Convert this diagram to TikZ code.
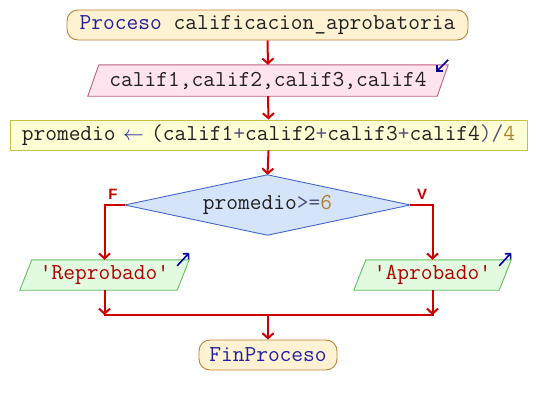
\documentclass[tikz,border=0pt]{standalone}
\usepackage{fontspec}
\setsansfont{Liberation Sans}
\usetikzlibrary{arrows.meta,calc}
\definecolor{flowred}{HTML}{CC0000}
\definecolor{kw}{HTML}{2020A0}
\definecolor{strc}{HTML}{B00000}
\definecolor{opc}{HTML}{505080}
\definecolor{numc}{HTML}{B08030}
\definecolor{txt}{HTML}{202020}
\definecolor{iconblue}{HTML}{0000A0}
\definecolor{termfill}{HTML}{FFF2D2}
\definecolor{termdraw}{HTML}{C08030}
\definecolor{infill}{HTML}{FFE4F0}
\definecolor{indraw}{HTML}{C06080}
\definecolor{asgfill}{HTML}{FFFFD6}
\definecolor{asgdraw}{HTML}{C8C040}
\definecolor{decfill}{HTML}{D6E4FA}
\definecolor{decdraw}{HTML}{4466CC}
\definecolor{outfill}{HTML}{E2FAE0}
\definecolor{outdraw}{HTML}{60C060}
\newcommand{\sq}{\symbol{39}}
\tikzset{
  base/.style={inner sep=0pt, font=\ttfamily\fontsize{22.8}{26}\selectfont, text=txt},
  term/.style={base, draw=termdraw, fill=termfill, line width=0.9pt, rounded corners=11pt},
  boxnode/.style={base},
  asgbox/.style={base, draw=asgdraw, fill=asgfill, line width=0.9pt},
  flow/.style={draw=flowred, line width=2pt, -{Straight Barb[length=5pt,width=11pt]}},
  flowline/.style={draw=flowred, line width=2pt},
  icon/.style={draw=iconblue, line width=1.6pt, -{Straight Barb[length=4pt,width=8pt]}},
  branchlbl/.style={text=flowred, font=\sffamily\bfseries\fontsize{15}{17}\selectfont, inner sep=0pt},
}
\begin{document}
\begin{tikzpicture}[x=1pt,y=-1pt]
\useasboundingbox (0,0) rectangle (536,405);
% start terminal
\node[term, minimum width=401pt, minimum height=30pt] (start) at (267.5,25)
  {\textcolor{kw}{Proceso} calificacion\_aprobatoria};
% input
\node[boxnode, minimum width=360pt, minimum height=31pt] (in) at (268,80.5) {};
\filldraw[fill=infill, draw=indraw, line width=0.9pt]
  (in.south west) -- ($(in.north west)+(11,0)$) -- (in.north east) -- ($(in.south east)+(-11,0)$) -- cycle;
\node[base] at (in.center) {calif1,calif2,calif3,calif4};
\draw[icon] ($(in.north east)+(0,-5)$) -- ($(in.north east)+(-12,7)$);
% assignment
\node[asgbox, minimum width=517pt, minimum height=30pt] (asg) at (268.5,135)
  {promedio \makebox[12pt]{\textcolor{kw}{$\leftarrow$}} (calif1\textcolor{opc}{+}calif2\textcolor{opc}{+}calif3\textcolor{opc}{+}calif4\textcolor{opc}{)/}\textcolor{numc}{4}};
% decision
\node[boxnode, minimum width=285pt, minimum height=60pt] (dec) at (267.5,205) {};
\filldraw[fill=decfill, draw=decdraw, line width=0.9pt]
  (dec.north) -- (dec.east) -- (dec.south) -- (dec.west) -- cycle;
\node[base] at (dec.center) {promedio\textcolor{opc}{>=}\textcolor{numc}{6}};
% outputs
\node[boxnode, minimum width=169pt, minimum height=30pt] (rep) at (104.5,275) {};
\filldraw[fill=outfill, draw=outdraw, line width=0.9pt]
  (rep.south west) -- ($(rep.north west)+(12,0)$) -- (rep.north east) -- ($(rep.south east)+(-12,0)$) -- cycle;
\node[base, text=strc] at (rep.center) {\sq Reprobado\sq};
\draw[icon] ($(rep.north east)+(-12,6)$) -- ($(rep.north east)+(0,-7)$);
\node[boxnode, minimum width=157pt, minimum height=30pt] (apr) at (432.5,275) {};
\filldraw[fill=outfill, draw=outdraw, line width=0.9pt]
  (apr.south west) -- ($(apr.north west)+(12,0)$) -- (apr.north east) -- ($(apr.south east)+(-12,0)$) -- cycle;
\node[base, text=strc] at (apr.center) {\sq Aprobado\sq};
\draw[icon] ($(apr.north east)+(-12,6)$) -- ($(apr.north east)+(0,-7)$);
% end terminal
\node[term, minimum width=138pt, minimum height=30pt] (fin) at (268,355)
  {\textcolor{kw}{FinProceso}};
% connectors
\draw[flow] (start.south) -- (in.north);
\draw[flow] (in.south) -- (asg.north);
\draw[flow] (asg.south) -- (dec.north);
\draw[flow] (dec.west) -| (rep.north);
\draw[flow] (dec.east) -| (apr.north);
\coordinate (m) at (268,315);
\draw[flow] (rep.south) -- (rep.south |- m);
\draw[flow] (apr.south) -- (apr.south |- m);
\draw[flowline] ([xshift=-1pt]rep.south |- m) -- ([xshift=1pt]apr.south |- m);
\draw[flow] (m) -- (fin.north);
\node[branchlbl] (lf) at (113,194) {F};
\node[branchlbl] (lv) at (422,194) {V};
\end{tikzpicture}
\end{document}
